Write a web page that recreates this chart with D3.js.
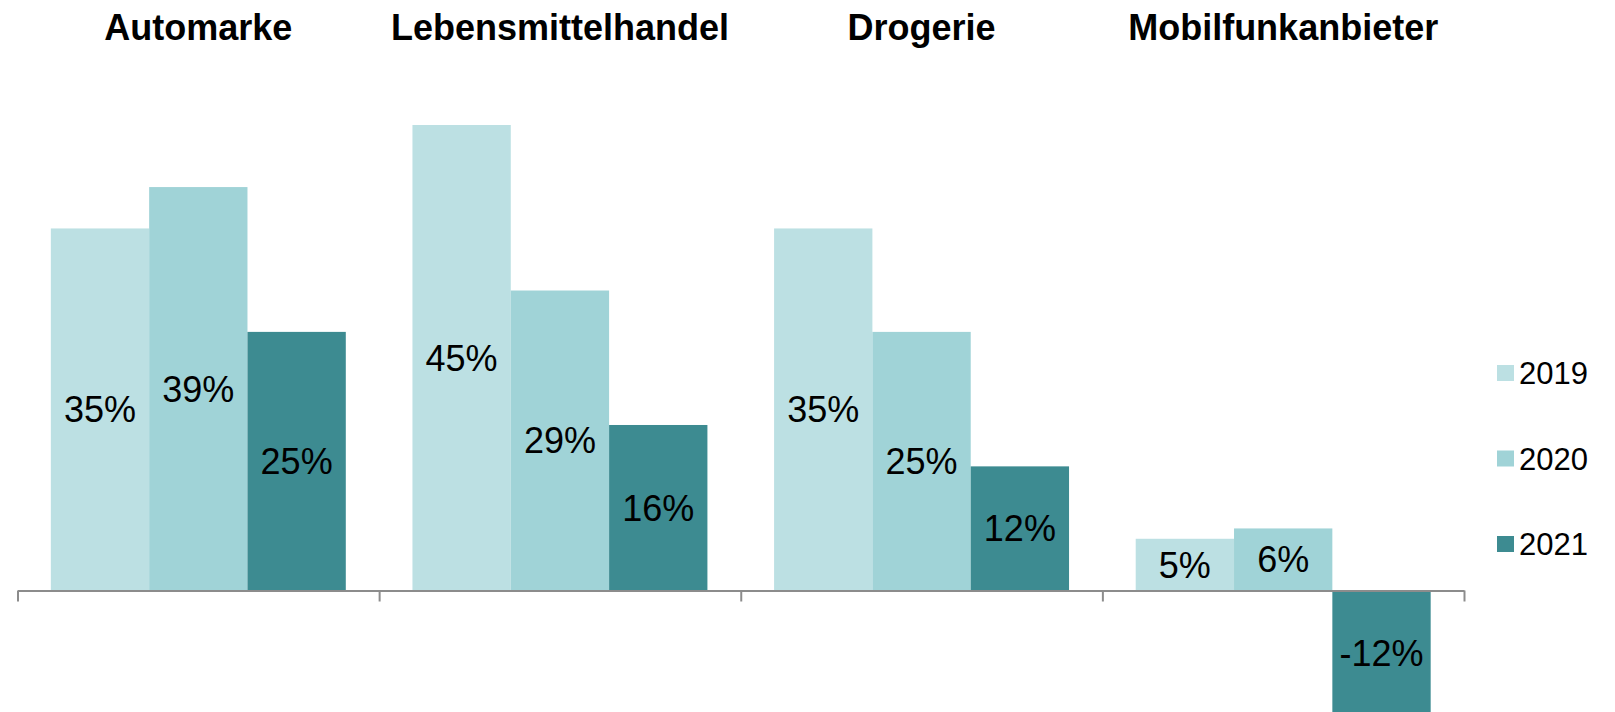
<!DOCTYPE html>
<html><head><meta charset="utf-8">
<script src="https://cdn.jsdelivr.net/npm/d3@7"></script>
<style>html,body{margin:0;padding:0;background:#fff;}svg{display:block;}</style>
</head><body>
<script>
const categories = ["Automarke", "Lebensmittelhandel", "Drogerie", "Mobilfunkanbieter"];
const years = ["2019", "2020", "2021"];
const values2019 = [35, 45, 35, 5];
const values2020 = [39, 29, 25, 6];
const values2021 = [25, 16, 12, -12];
const colors = ["#bce0e3", "#a0d3d7", "#3d8b91"];

const series = [values2019, values2020, values2021];
const W = 1615, H = 712;
const svg = d3.select("body").append("svg").attr("width", W).attr("height", H);
const font = "'Liberation Sans', Arial, sans-serif";

const x0 = d3.scaleBand().domain(categories).range([17.5, 1464]).paddingInner(0).paddingOuter(0);
const x1 = d3.scaleBand().domain(years).range([0, x0.bandwidth()]).paddingInner(0).paddingOuter(0.339);
const y = d3.scaleLinear().domain([0, 45]).range([590.5, 125]);

// bars
categories.forEach((c, ci) => {
  const g = svg.append("g").attr("transform", `translate(${x0(c)},0)`);
  years.forEach((yr, si) => {
    const v = series[si][ci];
    g.append("rect")
      .attr("x", x1(yr))
      .attr("y", y(Math.max(0, v)))
      .attr("width", x1.bandwidth())
      .attr("height", Math.abs(y(v) - y(0)))
      .attr("fill", colors[si]);
    const yc = (y(v) + y(0)) / 2;
    g.append("text")
      .attr("x", x1(yr) + x1.bandwidth() / 2)
      .attr("y", yc)
      .attr("dy", "0.36em")
      .attr("text-anchor", "middle")
      .attr("font-family", font)
      .attr("font-size", 36)
      .attr("fill", "#000")
      .text(v + "%");
  });
  // title
  svg.append("text")
    .attr("x", x0(c) + x0.bandwidth() / 2)
    .attr("y", 40)
    .attr("text-anchor", "middle")
    .attr("font-family", font)
    .attr("font-weight", "bold")
    .attr("font-size", 36)
    .attr("fill", "#000")
    .text(c);
});

// axis with ticks at group boundaries
const xb = d3.scaleLinear().domain([0, categories.length]).range(x0.range());
const axis = svg.append("g").attr("transform", `translate(0,${y(0)})`)
  .call(d3.axisBottom(xb).tickValues(d3.range(categories.length + 1)).tickSize(11).tickSizeOuter(0).tickFormat(""));
axis.selectAll("path,line").attr("stroke", "#8c8c8c").attr("stroke-width", 2);

// legend
const legY = [373, 458.5, 544];
years.forEach((yr, i) => {
  const lg = svg.append("g").attr("transform", `translate(1497,${legY[i]})`);
  lg.append("rect").attr("x", 0).attr("y", -8).attr("width", 17).attr("height", 16).attr("fill", colors[i]);
  lg.append("text").attr("x", 22).attr("y", 0).attr("dy", "0.36em")
    .attr("font-family", font).attr("font-size", 31).attr("fill", "#000").text(yr);
});
</script>
</body></html>
